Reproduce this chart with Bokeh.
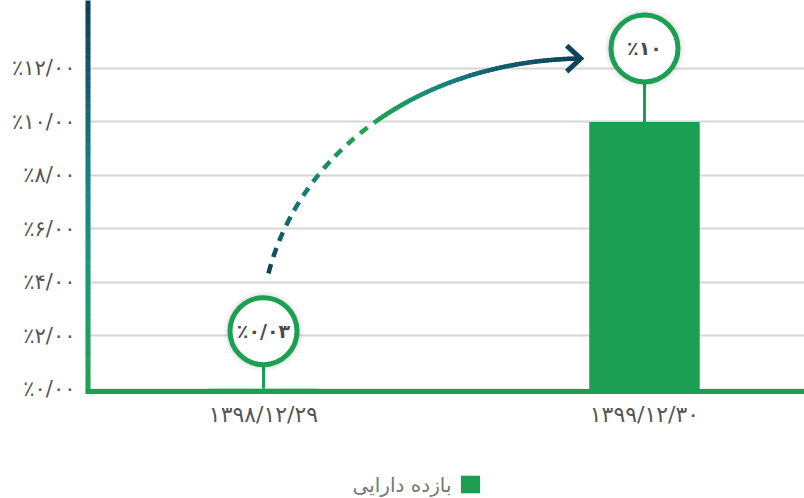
import numpy as np
from bokeh.plotting import figure
from bokeh.models import Range1d, FixedTicker, Legend, LegendItem, Label
from bokeh.core.properties import value
from bokeh.embed import file_html
from bokeh.resources import INLINE

# ---------------- data ----------------
dates = ["۱۳۹۸/۱۲/۲۹", "۱۳۹۹/۱۲/۳۰"]
returns = [0.03, 10.0]
bubble_text = ["٪۰/۰۳", "٪۱۰"]
y_ticks = [0, 2, 4, 6, 8, 10, 12]
y_tick_labels = ["٪۰/۰۰", "٪۲/۰۰", "٪۴/۰۰", "٪۶/۰۰", "٪۸/۰۰", "٪۱۰/۰۰", "٪۱۲/۰۰"]
series_name = "بازده دارایی"

# ---------------- style / layout ----------------
GREEN = "#1c9f52"
NAVY = "#0e4459"
FONT = "DejaVu Sans"
W, H = 804, 498
BORDER_L = 85
X0, X1 = -0.4672, 1.42
Y0, Y1 = -4.075, 14.54
AXIS_DROP = -0.08
BAR_W = 0.29
bubble_lift = [2.15, 2.75]          # how far each bubble floats above its bar
ARROW_CTRL_X = [0.013, 0.097, 0.412, 0.822]
ARROW_CTRL_Y = [4.34, 8.94, 12.22, 12.37]

frame_w, frame_h = W - BORDER_L, H
px_x = frame_w / (X1 - X0)
px_y = frame_h / (Y1 - Y0)

xs = list(range(len(dates)))
bubble_y = [v + l for v, l in zip(returns, bubble_lift)]

p = figure(width=W, height=H, x_range=Range1d(X0, X1), y_range=Range1d(Y0, Y1),
           output_backend="svg", toolbar_location=None,
           min_border_left=BORDER_L, min_border_right=0,
           min_border_top=0, min_border_bottom=0)
p.outline_line_color = None
p.background_fill_color = "white"
p.border_fill_color = "white"

p.xgrid.visible = False
p.ygrid.ticker = FixedTicker(ticks=y_ticks)
p.ygrid.grid_line_color = "#d6d6d6"
p.ygrid.grid_line_width = 2

ya = p.yaxis[0]
ya.ticker = FixedTicker(ticks=y_ticks)
ya.major_label_overrides = {t: l for t, l in zip(y_ticks, y_tick_labels)}
ya.axis_line_color = None
ya.major_tick_line_color = None
ya.minor_tick_line_color = None
ya.major_label_text_font = FONT
ya.major_label_text_font_size = "21px"
ya.major_label_text_color = "#555555"
ya.major_label_standoff = 4

xa = p.xaxis[0]
xa.fixed_location = AXIS_DROP
xa.ticker = FixedTicker(ticks=xs)
xa.major_label_overrides = {x: d for x, d in zip(xs, dates)}
xa.axis_line_color = GREEN
xa.axis_line_width = 5
xa.major_tick_line_color = None
xa.minor_tick_line_color = None
xa.major_label_text_font = FONT
xa.major_label_text_font_size = "22px"
xa.major_label_text_color = "#555555"
xa.major_label_standoff = 4


def lerp_color(stops, t):
    for (t0, c0), (t1, c1) in zip(stops[:-1], stops[1:]):
        if t <= t1:
            f = 0 if t1 == t0 else (t - t0) / (t1 - t0)
            a = [int(c0[i:i + 2], 16) for i in (1, 3, 5)]
            b = [int(c1[i:i + 2], 16) for i in (1, 3, 5)]
            return "#%02x%02x%02x" % tuple(int(round(a[k] + (b[k] - a[k]) * f)) for k in range(3))
    return stops[-1][1]


# gradient left axis line
axis_stops = [(0.0, "#1fa350"), (0.3, "#179a78"), (0.55, "#167f86"), (0.8, "#135a70"), (1.0, "#0d3c55")]
n = 90
edges = np.linspace(AXIS_DROP * 2, Y1, n + 1)
p.segment(x0=[X0] * n, y0=list(edges[:-1]), x1=[X0] * n, y1=list(edges[1:] + 0.02),
          line_color=[lerp_color(axis_stops, max(0.0, e / Y1)) for e in edges[:-1]],
          line_width=10)

# bars
bars = p.vbar(x=xs, top=returns, bottom=0, width=BAR_W, fill_color=GREEN, line_color=None)

# stems and bubbles
p.segment(x0=xs, y0=returns, x1=xs, y1=bubble_y, line_color=GREEN, line_width=3)
p.scatter(xs, bubble_y, size=80, fill_color="#000000", fill_alpha=0.04, line_color=None)
p.scatter(xs, bubble_y, size=75, fill_color="#000000", fill_alpha=0.06, line_color=None)
p.scatter(xs, bubble_y, size=67, fill_color="white", line_color=GREEN, line_width=5)
p.text(xs, bubble_y, text=bubble_text, text_align="center", text_baseline="middle",
       text_font=value(FONT), text_font_size="19px", text_font_style="bold",
       text_color="#4a4a4a")

# curved arrow
arrow_stops = [(0.0, "#0e4459"), (0.22, "#167a73"), (0.45, "#22a24e"), (0.55, "#1f9c5a"),
               (0.68, "#178a82"), (0.82, "#145f72"), (1.0, "#0e4459")]
t = np.linspace(0, 1, 800)
cx, cy = np.array(ARROW_CTRL_X), np.array(ARROW_CTRL_Y)
bx = (1 - t) ** 3 * cx[0] + 3 * (1 - t) ** 2 * t * cx[1] + 3 * (1 - t) * t ** 2 * cx[2] + t ** 3 * cx[3]
by = (1 - t) ** 3 * cy[0] + 3 * (1 - t) ** 2 * t * cy[1] + 3 * (1 - t) * t ** 2 * cy[2] + t ** 3 * cy[3]
sx, sy = bx * px_x, by * px_y
s = np.concatenate([[0], np.cumsum(np.hypot(np.diff(sx), np.diff(sy)))])
T_SPLIT = 0.5
DASH, GAP = 10, 7
dxs, dys, dcs = [], [], []
s_end = s[t <= T_SPLIT][-1]
k = 0
while k * (DASH + GAP) <= s_end:
    a, b = k * (DASH + GAP), k * (DASH + GAP) + DASH
    m = (s >= a) & (s <= b) & (t <= T_SPLIT)
    if m.sum() >= 2:
        dxs.append(list(bx[m])); dys.append(list(by[m]))
        dcs.append(lerp_color(arrow_stops, float(t[m].mean())))
    k += 1
p.multi_line(xs=dxs, ys=dys, line_color=dcs, line_width=4.5, line_cap="butt")

sxs, sys_, scs = [], [], []
s0 = s[np.where(t >= T_SPLIT)[0][0]]
piece = 4.0
j = 0
while True:
    m = (t >= T_SPLIT) & (s >= s0 + j * piece) & (s <= s0 + (j + 1) * piece + 0.5)
    if m.sum() < 2:
        break
    sxs.append(list(bx[m])); sys_.append(list(by[m]))
    scs.append(lerp_color(arrow_stops, float(t[m].mean())))
    j += 1
p.multi_line(xs=sxs, ys=sys_, line_color=scs, line_width=4.5, line_cap="round")

tip_x, tip_y = cx[3] + 4 / px_x, cy[3]
hx, hy = 14 / px_x, 13 / px_y
p.line([tip_x - hx, tip_x, tip_x - hx], [tip_y + hy, tip_y, tip_y - hy],
       line_color=NAVY, line_width=5, line_join="miter", line_cap="butt")

# legend (RTL: swatch on the right, name on its left)
legend = Legend(items=[LegendItem(label="", renderers=[bars])],
                location=(373, 3), glyph_width=24, glyph_height=22,
                label_standoff=0, label_width=0,
                padding=0, margin=0, spacing=0,
                border_line_color=None, background_fill_alpha=0)
p.add_layout(legend)
p.add_layout(Label(x=366, y=14, x_units="screen", y_units="screen", text=series_name,
                   text_align="right", text_baseline="middle", text_font=FONT,
                   text_font_size="20px", text_color="#777777"))

open("out.html", "w").write(file_html(p, INLINE))
